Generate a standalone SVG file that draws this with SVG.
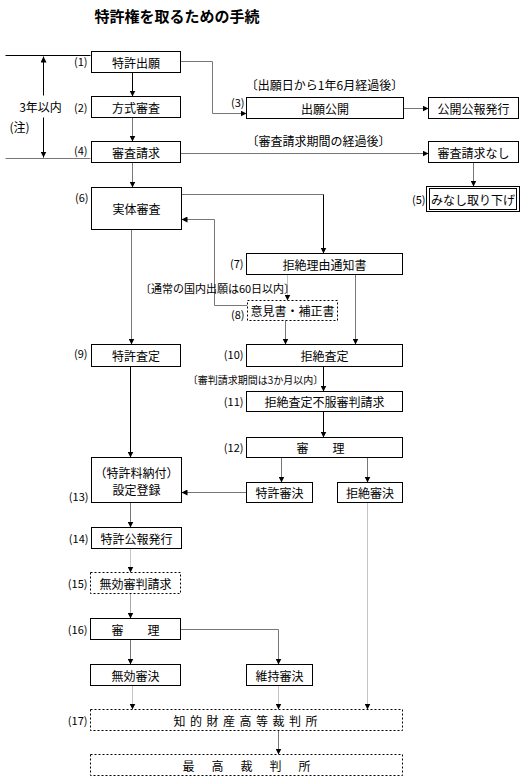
<svg xmlns="http://www.w3.org/2000/svg" width="525" height="782" viewBox="0 0 525 782">
<style>
text{font-family:"Noto Sans CJK JP","Noto Sans CJK SC",sans-serif;font-size:12px;fill:#000}
.t{text-anchor:middle;dominant-baseline:central}
.n{font-size:11px;text-anchor:end;dominant-baseline:central}
.c{text-anchor:middle;dominant-baseline:central}
.box{fill:#fff;stroke:#000;stroke-width:1}
.dash{fill:#fff;stroke:#000;stroke-width:1;stroke-dasharray:2 2}
.k{fill:none;stroke:#000;stroke-width:1}
.g{fill:none;stroke:#777;stroke-width:1}
.lg{fill:none;stroke:#aaa;stroke-width:1}
.d{fill:none;stroke:#888;stroke-width:1;stroke-dasharray:1 1}
.a{marker-end:url(#ah)}
</style>
<defs>
<marker id="ah" markerUnits="userSpaceOnUse" markerWidth="6" markerHeight="6" refX="6" refY="3" orient="auto">
<path d="M0,0 L6,3 L0,6 z" fill="#000"/>
</marker>
</defs>
<rect width="525" height="782" fill="#fff"/>
<text x="177" y="15" class="c" style="font-size:15px;font-weight:bold">特許権を取るための手続</text>
<g transform="translate(0.5,0.5)">
<g id="connectors">
<path class="k" d="M5,55 H90"/>
<path class="g" d="M5,158 H90"/>
<path class="k a" d="M43,95 V56"/>
<path class="k a" d="M43,117 V157"/>
<path class="k a" d="M132,72 V96"/>
<path class="g a" d="M132,117 V141"/>
<path class="g a" d="M132,162 V187"/>
<path class="g a" d="M180,61 H212 V113 H246"/>
<path class="g a" d="M403,108 H428"/>
<path class="g a" d="M180,153 H428"/>
<path class="g a" d="M473,162 V186"/>
<path class="g" d="M181,194 H323"/>
<path class="k a" d="M323,194 V253"/>
<path class="g a" d="M247,305 H214 V219 H181"/>
<path class="g a" d="M131,229 V344"/>
<path class="d a" d="M287,274 V300"/>
<path class="g a" d="M285,320 V344"/>
<path class="g a" d="M355,274 V344"/>
<path class="k a" d="M323,366 V391"/>
<path class="k a" d="M323,411 V437"/>
<path class="g a" d="M281,457 V482"/>
<path class="g a" d="M367,457 V482"/>
<path class="g a" d="M246,492 H181"/>
<path class="k a" d="M130,366 V457"/>
<path class="g a" d="M130,502 V527"/>
<path class="d a" d="M367,502 V709"/>
<path class="d a" d="M130,548 V572"/>
<path class="lg a" d="M130,593 V618"/>
<path class="g a" d="M130,639 V664"/>
<path class="g a" d="M180,629 H278 V664"/>
<path class="d a" d="M132,685 V709"/>
<path class="d a" d="M278,685 V709"/>
<path class="g a" d="M278,730 V754"/>
</g>
<g id="labels">
<text x="40" y="106" class="c">3年以内</text>
<text x="19" y="126" class="c">(注)</text>
<text x="324" y="84" class="c">〔出願日から1年6月経過後〕</text>
<text x="318" y="140" class="c">〔審査請求期間の経過後〕</text>
<text x="217" y="287" class="c" style="font-size:11px">〔通常の国内出願は60日以内〕</text>
<text x="255" y="379" class="c" style="font-size:10px">〔審判請求期間は3か月以内〕</text>
</g>
<g id="n1"><rect class="box" x="91" y="51" width="89" height="21"/><text class="t" x="135.5" y="61.5">特許出願</text><text class="n" x="87" y="60">(1)</text></g>
<g id="n2"><rect class="box" x="91" y="96" width="89" height="21"/><text class="t" x="135.5" y="106.5">方式審査</text><text class="n" x="87" y="106">(2)</text></g>
<g id="n4"><rect class="box" x="91" y="141" width="89" height="21"/><text class="t" x="135.5" y="151.5">審査請求</text><text class="n" x="87" y="149">(4)</text></g>
<g id="n3"><rect class="box" x="246" y="97" width="157" height="21"/><text class="t" x="324.5" y="107.5">出願公開</text><text class="n" x="244" y="101">(3)</text></g>
<g id="n3b"><rect class="box" x="428" y="97" width="90" height="21"/><text class="t" x="473" y="107.5">公開公報発行</text></g>
<g id="n5a"><rect class="box" x="428" y="141" width="90" height="21"/><text class="t" x="473" y="151.5">審査請求なし</text></g>
<g id="n5"><rect class="box" x="426" y="186" width="93" height="25"/><rect class="box" x="429" y="188" width="87" height="21"/><text class="t" x="472.5" y="198.5">みなし取り下げ</text><text class="n" x="425" y="198">(5)</text></g>
<g id="n6"><rect class="box" x="91" y="187" width="90" height="42"/><text class="t" x="136" y="208">実体審査</text><text class="n" x="88" y="196">(6)</text></g>
<g id="n7"><rect class="box" x="246" y="253" width="156" height="21"/><text class="t" x="324" y="263.5">拒絶理由通知書</text><text class="n" x="243" y="262">(7)</text></g>
<g id="n8"><rect class="dash" x="247" y="300" width="90" height="20"/><text class="t" x="292" y="310">意見書・補正書</text><text class="n" x="244" y="313">(8)</text></g>
<g id="n9"><rect class="box" x="91" y="344" width="89" height="22"/><text class="t" x="135.5" y="355">特許査定</text><text class="n" x="87" y="352">(9)</text></g>
<g id="n10"><rect class="box" x="246" y="344" width="156" height="22"/><text class="t" x="324" y="355">拒絶査定</text><text class="n" x="243" y="353">(10)</text></g>
<g id="n11"><rect class="box" x="246" y="391" width="156" height="20"/><text class="t" x="324" y="401">拒絶査定不服審判請求</text><text class="n" x="243" y="400">(11)</text></g>
<g id="n12"><rect class="box" x="246" y="437" width="156" height="20"/><text class="t" x="320" y="447">審　　理</text><text class="n" x="243" y="446">(12)</text></g>
<g id="n13"><rect class="box" x="91" y="457" width="90" height="45"/><text class="t" x="136" y="472">（特許料納付）</text><text class="t" x="136" y="489">設定登録</text><text class="n" x="88" y="495">(13)</text></g>
<g id="n12a"><rect class="box" x="246" y="482" width="66" height="20"/><text class="t" x="279" y="492">特許審決</text></g>
<g id="n12b"><rect class="box" x="337" y="482" width="65" height="20"/><text class="t" x="369.5" y="492">拒絶審決</text></g>
<g id="n14"><rect class="box" x="91" y="527" width="90" height="21"/><text class="t" x="136" y="537.5">特許公報発行</text><text class="n" x="88" y="537">(14)</text></g>
<g id="n15"><rect class="dash" x="90" y="572" width="90" height="21"/><text class="t" x="135" y="582.5">無効審判請求</text><text class="n" x="87" y="582">(15)</text></g>
<g id="n16"><rect class="box" x="90" y="618" width="90" height="21"/><text class="t" x="135" y="628.5">審　　理</text><text class="n" x="87" y="628">(16)</text></g>
<g id="n16a"><rect class="box" x="90" y="664" width="90" height="21"/><text class="t" x="135" y="674.5">無効審決</text></g>
<g id="n16b"><rect class="box" x="246" y="664" width="66" height="21"/><text class="t" x="279" y="674.5">維持審決</text></g>
<g id="n17"><rect class="dash" x="90" y="709" width="312" height="21"/><text class="t" x="245" y="719.5" textLength="144">知的財産高等裁判所</text><text class="n" x="87" y="719">(17)</text></g>
<g id="n18"><rect class="dash" x="90" y="754" width="312" height="21"/><text class="t" x="246" y="764.5" textLength="128">最高裁判所</text></g>
</g>
</svg>
